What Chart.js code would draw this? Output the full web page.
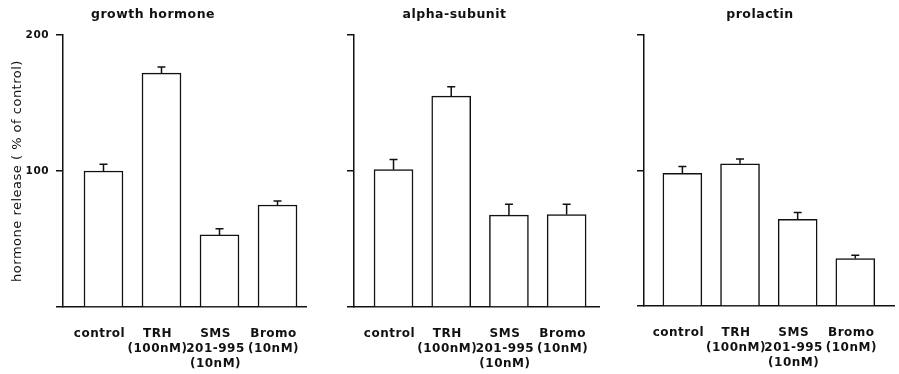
<!DOCTYPE html>
<html>
<head>
<meta charset="utf-8">
<script src="https://cdn.jsdelivr.net/npm/chart.js@4/dist/chart.umd.min.js"></script>
<style>
  body { margin: 0; background: #fff; }
  canvas { position: absolute; top: 0; }
</style>
</head>
<body>
<canvas id="gh" width="375" height="374" style="left:0px"></canvas>
<canvas id="alpha" width="335" height="374" style="left:310px"></canvas>
<canvas id="prl" width="274" height="374" style="left:625px"></canvas>
<script>
// treatments, one label line per array entry
const categories = [
  ['control'],
  ['TRH', '(100nM)'],
  ['SMS', '201-995', '(10nM)'],
  ['Bromo', '(10nM)']
];

// hormone release, % of control (mean and SEM)
const ghRelease = [100, 172, 53, 75];
const ghSem = [5, 4.5, 4.5, 3];
const alphaRelease = [101, 155, 67.5, 68];
const alphaSem = [7.5, 7, 8, 7.5];
const prlRelease = [98, 105, 64, 35];
const prlSem = [5, 3.5, 5, 2.5];

const yTicks = [0, 100, 200];
const yTickLabels = ['', '100', '200'];
const yTitle = 'hormone release ( % of control)';

const ink = '#111';
Chart.defaults.font.family = 'DejaVu Sans';
Chart.defaults.color = ink;

// spaced-out lettering like the old typewriter-style figure
const spacing = {
  id: 'spacing',
  beforeDraw(chart) {
    chart.ctx.letterSpacing = '0.5px';
  }
};

// SEM whiskers with a cap on top only
const errorBars = {
  id: 'errorBars',
  afterDatasetsDraw(chart) {
    const { ctx, scales: { y } } = chart;
    chart.data.datasets.forEach((ds, di) => {
      chart.getDatasetMeta(di).data.forEach((bar, i) => {
        const v = ds.data[i].y;
        const top = y.getPixelForValue(v + ds.errors[i]);
        const base = y.getPixelForValue(v);
        ctx.save();
        ctx.strokeStyle = ink;
        ctx.lineWidth = 1.5;
        ctx.beginPath();
        ctx.moveTo(bar.x, base);
        ctx.lineTo(bar.x, top);
        ctx.moveTo(bar.x - 4, top);
        ctx.lineTo(bar.x + 4, top);
        ctx.stroke();
        ctx.restore();
      });
    });
  }
};

function makePanel(id, title, values, errors, p) {
  return new Chart(document.getElementById(id), {
    type: 'bar',
    data: {
      datasets: [{
        data: values.map((v, i) => ({ x: i, y: v })),
        errors: errors,
        backgroundColor: '#fff',
        borderColor: ink,
        borderWidth: 1.5,
        barThickness: 39
      }]
    },
    options: {
      responsive: false,
      animation: false,
      layout: { padding: { left: 0, right: p.padRight, top: 0, bottom: 0 } },
      plugins: {
        legend: { display: false },
        tooltip: { enabled: false },
        title: {
          display: true,
          text: title,
          color: ink,
          font: { size: 12.5, weight: 'bold', lineHeight: 1.2 },
          padding: { top: 7, bottom: 13 }
        }
      },
      scales: {
        x: {
          type: 'linear',
          min: p.xMin,
          max: p.xMax,
          offset: false,
          afterBuildTicks: (s) => { s.ticks = categories.map((_, i) => ({ value: i })); },
          afterFit: (s) => { s.height = p.xHeight; },
          grid: { display: false, drawTicks: false, offset: false },
          border: { display: true, color: ink, width: 1.5 },
          ticks: {
            callback: (v) => categories[v],
            maxRotation: 0,
            autoSkip: false,
            padding: 19,
            labelOffset: -4,
            color: ink,
            font: { size: 12, weight: 'bold', lineHeight: 1.25 }
          }
        },
        y: {
          min: 0,
          max: 200,
          afterBuildTicks: (s) => { s.ticks = yTicks.map((v) => ({ value: v })); },
          afterFit: (s) => { s.width = p.yWidth; },
          grid: { drawOnChartArea: false, drawTicks: true, tickLength: 7, color: ink, lineWidth: 1.5 },
          border: { display: true, color: ink, width: 1.5 },
          ticks: {
            display: p.yLabels,
            callback: (v, i) => yTickLabels[i],
            padding: 7,
            color: ink,
            font: { size: 10.5, weight: 'bold' }
          },
          title: {
            display: p.yLabels,
            text: yTitle,
            color: ink,
            font: { size: 13, lineHeight: 1.2 },
            padding: { top: 10, bottom: 0 }
          }
        }
      }
    },
    plugins: [spacing, errorBars]
  });
}

makePanel('gh', 'growth hormone', ghRelease, ghSem,
  { xMin: -0.698, xMax: 3.491, yWidth: 63, padRight: 69, xHeight: 67, yLabels: true });
makePanel('alpha', 'alpha-subunit', alphaRelease, alphaSem,
  { xMin: -0.685, xMax: 3.561, yWidth: 44, padRight: 46, xHeight: 67, yLabels: false });
makePanel('prl', 'prolactin', prlRelease, prlSem,
  { xMin: -0.666, xMax: 3.677, yWidth: 19, padRight: 4, xHeight: 68, yLabels: false });
</script>
</body>
</html>
